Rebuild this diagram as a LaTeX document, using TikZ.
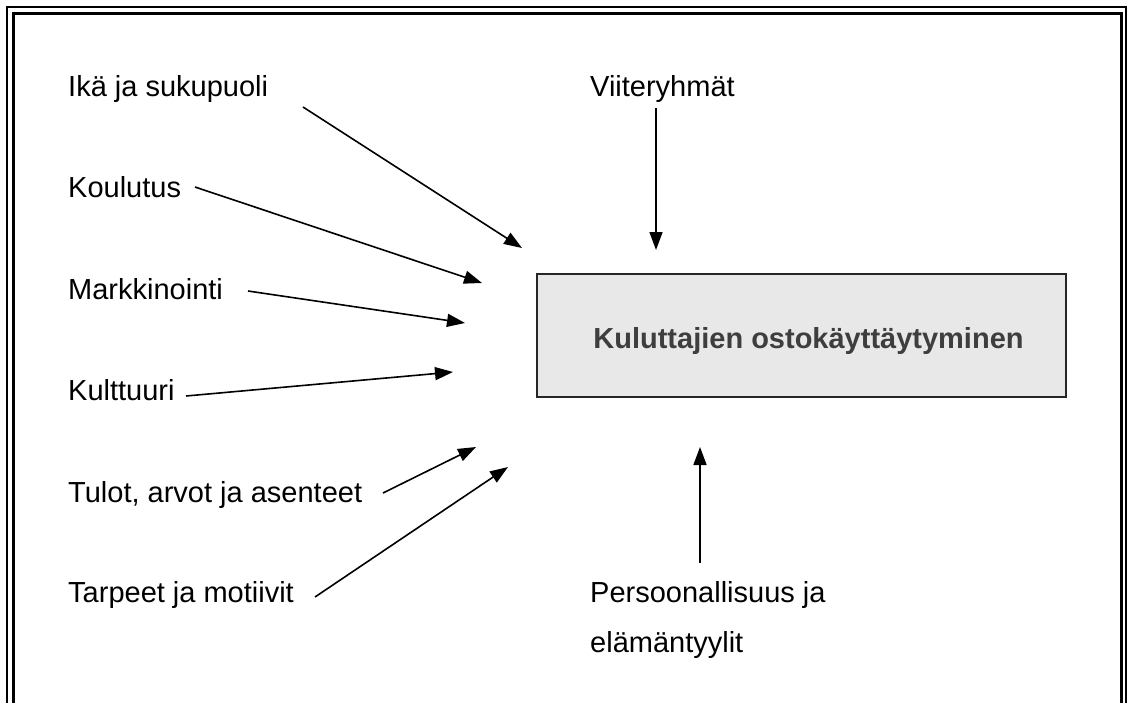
\documentclass[tikz,border=0pt]{standalone}
\usepackage{fontspec}
\setmainfont{Liberation Sans}
\usetikzlibrary{arrows.meta}
\definecolor{boxfill}{RGB}{232,232,232}
\definecolor{titlegray}{RGB}{62,62,62}
\tikzset{
  lbl/.style={anchor=base west, inner sep=0pt, font=\fontsize{29}{35}\selectfont},
  arr/.style={line width=1.6pt, -{Triangle[length=18pt,width=13pt]}},
}
\begin{document}
\begin{tikzpicture}[x=1pt,y=-1pt]
\clip (0,0) rectangle (1128,702);
\fill[white] (0,0) rectangle (1128,702);
% double frame, runs off the bottom
\draw[line width=2pt] (7,7) rectangle (1125.5,720);
\draw[line width=3pt] (13,13.5) rectangle (1121,720);

\node[draw=black!85, line width=2pt, fill=boxfill, minimum width=529, minimum height=123] (box) at (801.5,335.5) {};
\node[anchor=base, inner sep=0pt, font=\fontsize{29}{35}\selectfont\bfseries, text=titlegray] (kuluttaja)
      at ([xshift=7pt]box.center |- 0,348) {Kuluttajien ostokäyttäytyminen};

\node[lbl] (ika) at (68,96) {Ikä ja sukupuoli};
\node[lbl] (koulutus) at (68,197) {Koulutus};
\node[lbl] (markk) at (68,299) {Markkinointi};
\node[lbl] (kulttuuri) at (68,400) {Kulttuuri};
\node[lbl] (tulot) at (68,502) {Tulot, arvot ja asenteet};
\node[lbl] (tarpeet) at (68,602) {Tarpeet ja motiivit};
\node[lbl] (viite) at (590,96) {Viiteryhmät};
\node[lbl] (persa) at (590,602) {Persoonallisuus ja};
\node[lbl] (persb) at (590,652) {elämäntyylit};

% free ends of the arrows
\coordinate (ika-a) at (303,107);      \coordinate (ika-b) at (522,248);
\coordinate (kou-a) at (195,187);      \coordinate (kou-b) at (482,283);
\coordinate (mar-a) at (248,291);      \coordinate (mar-b) at (465,323);
\coordinate (kul-a) at (186,396);      \coordinate (kul-b) at (453,372);
\coordinate (tul-a) at (383,493);      \coordinate (tul-b) at (476,447);
\coordinate (tar-a) at (315,597);      \coordinate (tar-b) at (508,467);
\coordinate (vii-a) at (656,108);      \coordinate (vii-b) at (656,250);
\coordinate (per-a) at (700,563);      \coordinate (per-b) at (700,447);

\draw[arr] (ika-a) -- (ika-b);
\draw[arr] (kou-a) -- (kou-b);
\draw[arr] (mar-a) -- (mar-b);
\draw[arr] (kul-a) -- (kul-b);
\draw[arr] (tul-a) -- (tul-b);
\draw[arr] (tar-a) -- (tar-b);
\draw[arr] (vii-a) -- (vii-b);
\draw[arr] (per-a) -- (per-b);
\end{tikzpicture}
\end{document}
